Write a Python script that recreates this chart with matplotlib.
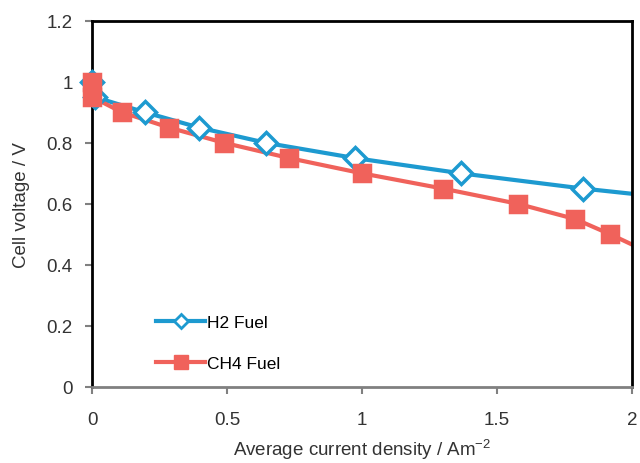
import numpy as np
import matplotlib
matplotlib.use('Agg')
import matplotlib.pyplot as plt
from matplotlib.lines import Line2D

plt.rcParams['font.family'] = ['Liberation Sans', 'DejaVu Sans']
plt.rcParams['mathtext.default'] = 'regular'

# data
h2_x = [0.0, 0.01, 0.196, 0.396, 0.644, 0.974, 1.367, 1.82, 2.35]
h2_y = [1.0, 0.95, 0.90, 0.85, 0.80, 0.75, 0.70, 0.65, 0.60]
ch4_x = [0.0, 0.0, 0.111, 0.285, 0.489, 0.73, 1.0, 1.30, 1.578, 1.79, 1.92, 2.04]
ch4_y = [1.0, 0.95, 0.90, 0.85, 0.80, 0.75, 0.70, 0.65, 0.60, 0.55, 0.50, 0.45]

blue = '#1d9ad0'
red = '#f0625b'
txt = '#333333'

fig = plt.figure(figsize=(6.4, 4.64), dpi=100)
ax = fig.add_axes([0.144, 0.164, 0.8435, 0.789])

xmax = 2.0


def draw(x, y, color, marker, ms, mfc):
    ax.plot(x, y, '-', color=color, lw=3, zorder=2)
    keep = [i for i, v in enumerate(x) if v <= xmax]
    ax.plot([x[i] for i in keep], [y[i] for i in keep], ls='none',
            marker=marker, ms=ms, mfc=mfc, mec=color, mew=2.5,
            clip_on=False, zorder=3)


draw(h2_x, h2_y, blue, 'D', 11, 'white')
draw(ch4_x, ch4_y, red, 's', 12, red)

ax.set_xlim(0, xmax)
ax.set_ylim(0, 1.2)
ax.set_xticks([0, 0.5, 1, 1.5, 2])
ax.set_xticklabels(['0', '0.5', '1', '1.5', '2'])
ax.set_yticks([0, 0.2, 0.4, 0.6, 0.8, 1.0, 1.2])
ax.set_yticklabels(['0', '0.2', '0.4', '0.6', '0.8', '1', '1.2'])

ax.tick_params(axis='both', labelsize=13.5, colors='#808080', labelcolor=txt,
               width=1.5, length=5)
ax.tick_params(axis='x', pad=12)
ax.tick_params(axis='y', pad=9)

for side in ['top', 'left', 'right']:
    ax.spines[side].set_color('black')
    ax.spines[side].set_linewidth(2)
ax.spines['bottom'].set_color('#808080')
ax.spines['bottom'].set_linewidth(2)

ax.set_xlabel('Average current density / Am$^{-2}$', fontsize=13.5, color=txt,
              labelpad=7)
ax.set_ylabel('Cell voltage / V', fontsize=13.5, color=txt, labelpad=12)

handles = [
    Line2D([], [], color=blue, lw=3, marker='D', ms=7, mfc='white', mec=blue, mew=2),
    Line2D([], [], color=red, lw=3, marker='s', ms=10, mfc=red, mec=red),
]
ax.legend(handles, ['H2 Fuel', 'CH4 Fuel'], loc='lower left',
          bbox_to_anchor=(0.09, 0.0), frameon=False, fontsize=12.5,
          handlelength=2.8, handletextpad=0.1, labelspacing=1.5)

plt.savefig('out.png', dpi=100)
